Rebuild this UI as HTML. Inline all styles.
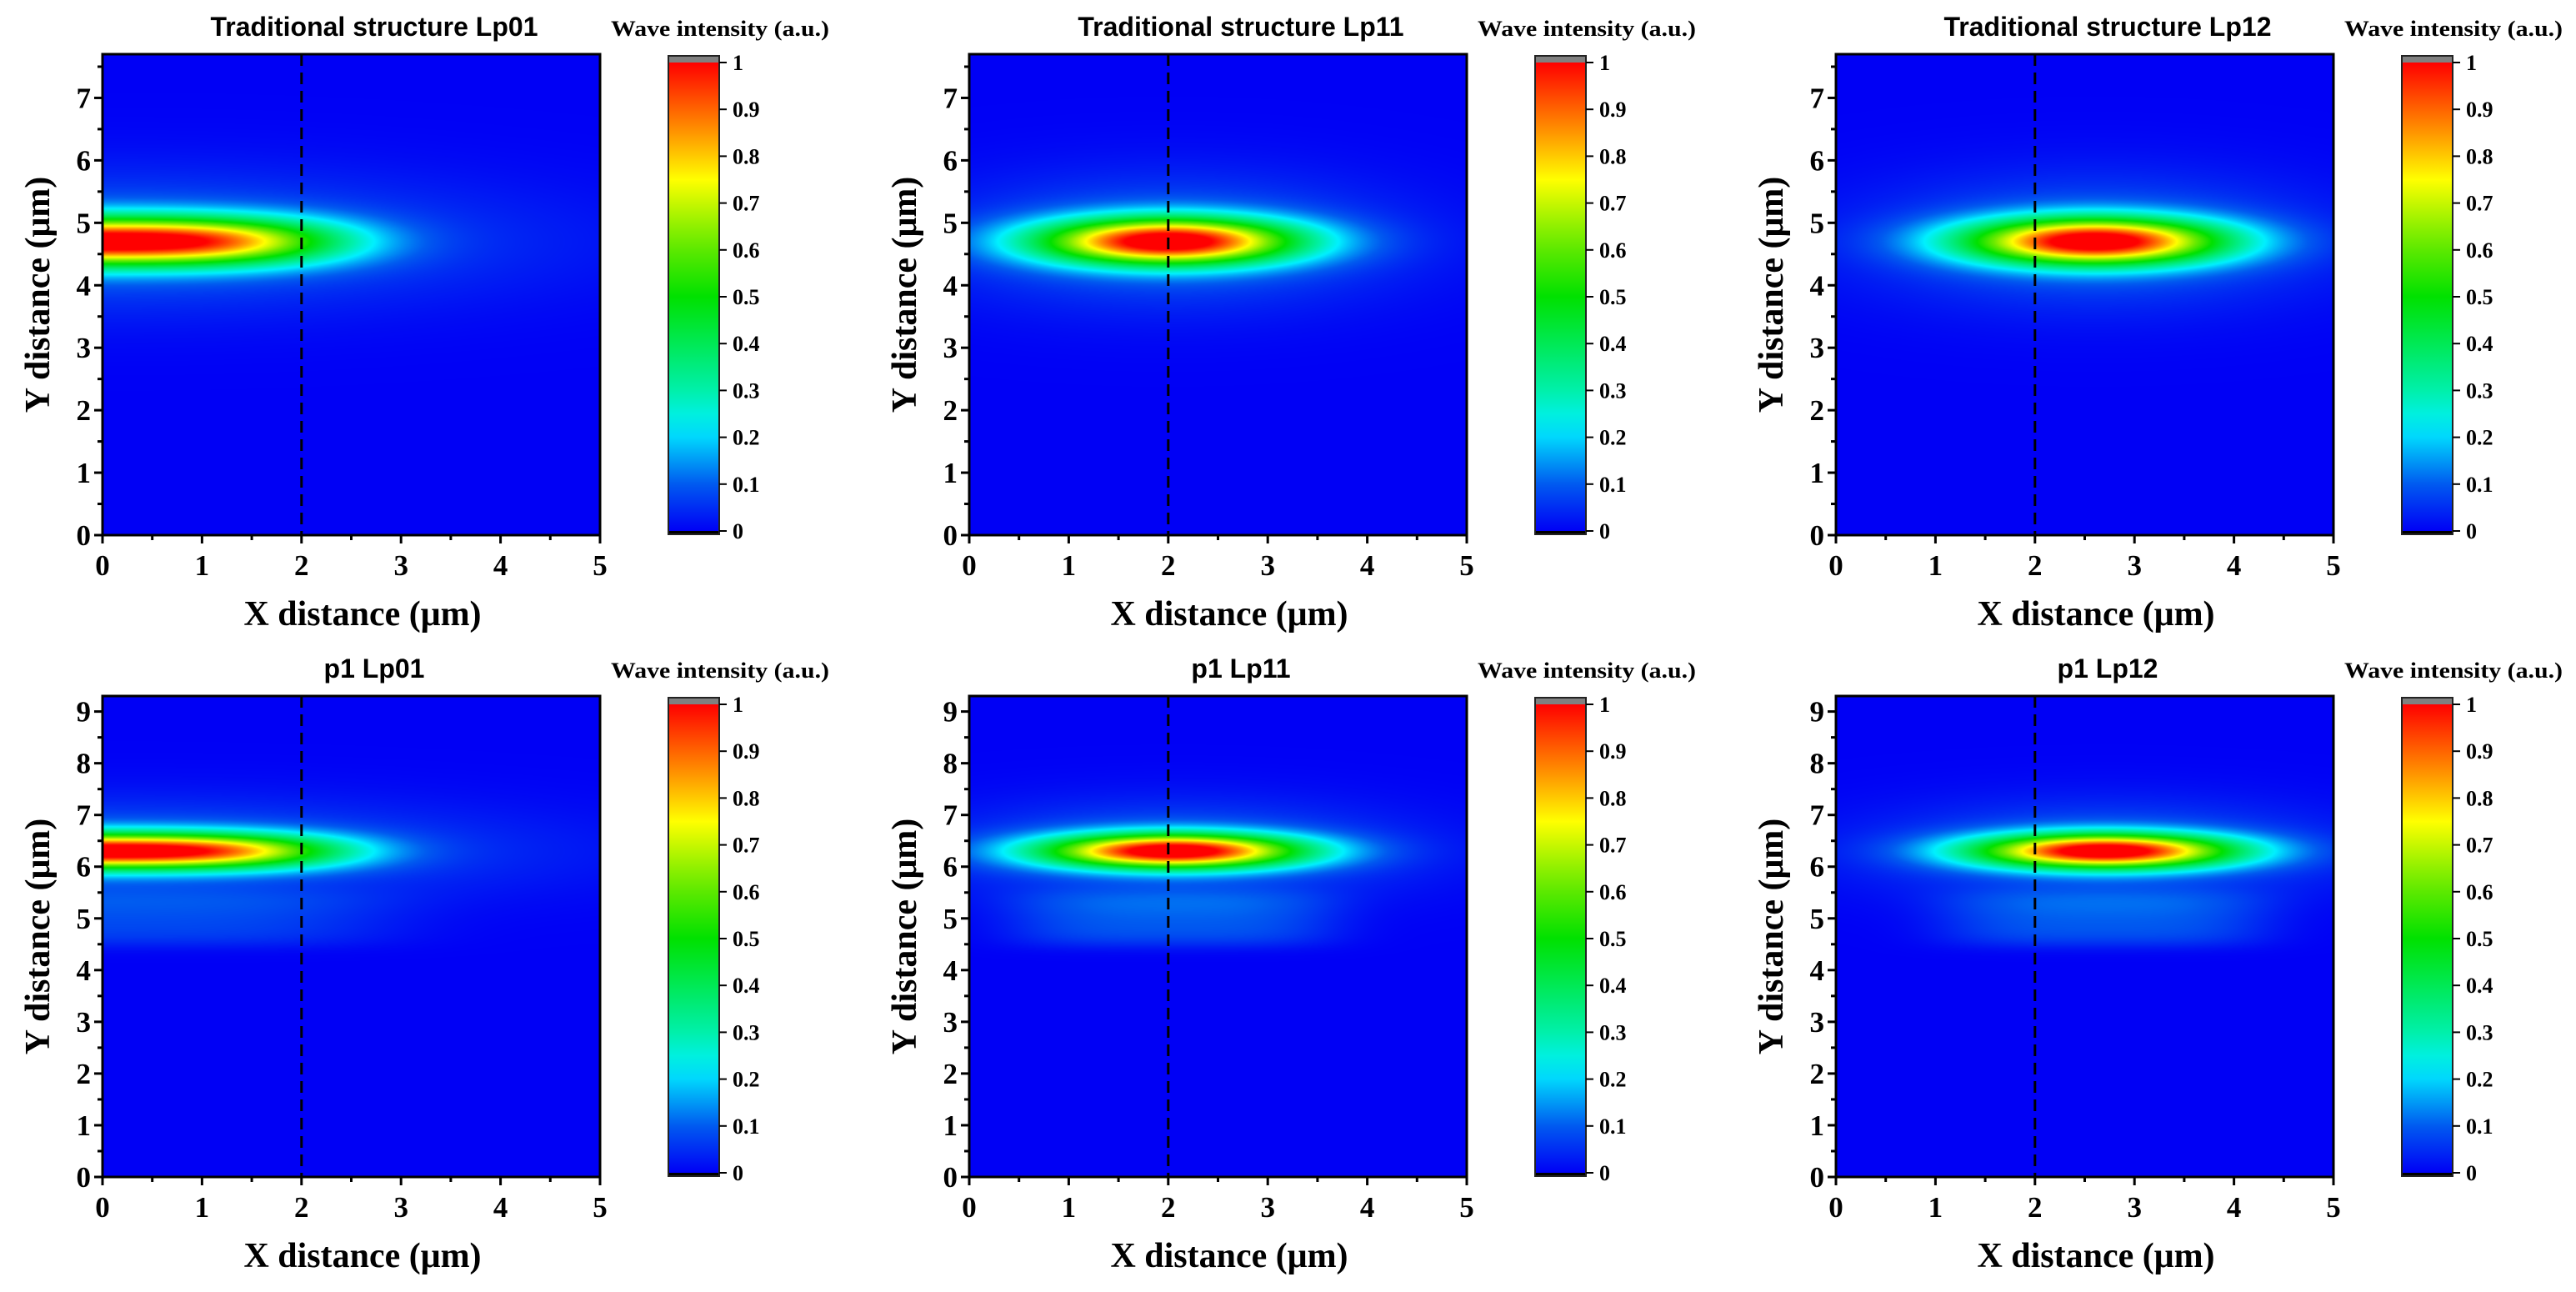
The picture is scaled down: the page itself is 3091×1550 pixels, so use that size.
<!DOCTYPE html>
<html><head><meta charset="utf-8">
<style>
html,body{margin:0;padding:0;background:#fff;}
#root{position:relative;width:3091px;height:1550px;overflow:hidden;background:#fff;}
canvas{position:absolute;}
svg{position:absolute;left:0;top:0;}
</style></head>
<body>
<div id="root">
<svg id="ov" width="3091" height="1550"></svg>
</div>
<script>
// ---- data ----
const panelTitles = ["Traditional structure Lp01","Traditional structure Lp11","Traditional structure Lp12","p1  Lp01","p1  Lp11","p1  Lp12"];
const peakX = [0, 2.0, 2.6, 0, 2.05, 2.7];
const peakY = [4.7, 4.7, 4.7, 6.3, 6.3, 6.3];
const spreadX = [2.18, 1.25, 1.25, 2.18, 1.25, 1.25];
const shapeX = [2.9, 2, 2, 2.9, 2, 2];
const spreadY = [0.37, 0.36, 0.36, 0.33, 0.32, 0.32];
const yMaxes = [7.7, 7.7, 7.7, 9.3, 9.3, 9.3];
const plateauLevel = [0, 0, 0, 0.07, 0.09, 0.09];
const plateauY = [0, 0, 0, 5.0, 5.0, 5.0];
const dashX = [2, 2, 2, 2, 2, 2];
const xTicks = [0,1,2,3,4,5];
const yTicksTop = [0,1,2,3,4,5,6,7];
const yTicksBottom = [0,1,2,3,4,5,6,7,8,9];
const cbTicks = [0,0.1,0.2,0.3,0.4,0.5,0.6,0.7,0.8,0.9,1];
const cbLabels = ["0","0.1","0.2","0.3","0.4","0.5","0.6","0.7","0.8","0.9","1"];

// ---- layout ----
const colX = [123, 1163, 2203];
const rowY = [{top:65,bot:642},{top:835,bot:1412}];
const PW = 597;
const NS = "http://www.w3.org/2000/svg";
const svg = document.getElementById('ov');
const root = document.getElementById('root');

function el(tag, attrs, parent){
  const e = document.createElementNS(NS, tag);
  for (const k in attrs) e.setAttribute(k, attrs[k]);
  (parent||svg).appendChild(e);
  return e;
}
const stops = [[0,[0,0,245]],[0.1,[0,90,240]],[0.22,[0,240,255]],[0.3,[0,240,170]],[0.5,[0,225,0]],[0.62,[110,235,0]],[0.75,[255,255,0]],[0.85,[255,150,0]],[1,[255,0,0]]];
function cmap(v){
  v=Math.max(0,Math.min(1,v));
  for(let i=1;i<stops.length;i++){
    if(v<=stops[i][0]){
      const a=stops[i-1],b=stops[i],t=(v-a[0])/(b[0]-a[0]);
      return [0,1,2].map(k=>Math.round(a[1][k]+(b[1][k]-a[1][k])*t));
    }
  }
  return stops[stops.length-1][1];
}
function field(p,x,y){
  const dx=Math.abs(x-peakX[p])/spreadX[p], dy=(y-peakY[p])/spreadY[p];
  let v=Math.exp(-Math.pow(dx,shapeX[p])-dy*dy);
  const hx=(x-peakX[p])/(spreadX[p]*1.8), hy=(y-peakY[p])/(spreadY[p]*2.8);
  v+=0.12*Math.exp(-hx*hx-hy*hy);
  if(plateauLevel[p]>0){
    const px=(x-peakX[p])/(spreadX[p]*1.3), py=(y-plateauY[p])/0.55;
    v+=plateauLevel[p]*Math.exp(-Math.pow(px*px,2)-Math.pow(py*py,2));
  }
  return Math.min(1,v);
}
const ff = '"Liberation Serif", serif';

for(let p=0;p<6;p++){
  const col=p%3,row=Math.floor(p/3);
  const L=colX[col], R=L+PW, T=rowY[row].top, B=rowY[row].bot;
  const ymax=yMaxes[p];
  const sx=v=>L+v/5*PW;
  const sy=v=>B-v/ymax*(B-T);
  const c=document.createElement('canvas');
  c.width=PW; c.height=B-T;
  c.style.left=L+'px'; c.style.top=T+'px';
  
  
  root.insertBefore(c, svg);
  const ctx=c.getContext('2d');
  const img=ctx.createImageData(c.width,c.height);
  for(let j=0;j<c.height;j++){
    const yv=ymax*(1-(j+0.5)/c.height);
    for(let i=0;i<c.width;i++){
      const xv=5*(i+0.5)/c.width;
      const rgb=cmap(field(p,xv,yv));
      const o=(j*c.width+i)*4;
      img.data[o]=rgb[0];img.data[o+1]=rgb[1];img.data[o+2]=rgb[2];img.data[o+3]=255;
    }
  }
  ctx.putImageData(img,0,0);

  const g=el('g',{});
  
  
  const dl=el('line',{x1:sx(dashX[p]),x2:sx(dashX[p]),y1:T,y2:B,stroke:'#000','stroke-width':3,'stroke-dasharray':'14 8'},g);
  
  
  const fr=el('rect',{x:L,y:T,width:PW,height:B-T,fill:'none',stroke:'#000','stroke-width':3},g);
  
  
  for(let k=0;k<=10;k++){
    const v=k*0.5;
    el('line',{x1:sx(v),x2:sx(v),y1:B,y2:B+(k%2?6:10),stroke:'#000','stroke-width':3},g);
  }
  xTicks.forEach(v=>{
    const t=el('text',{x:sx(v),y:B+48,'text-anchor':'middle','font-family':ff,'font-weight':'bold','font-size':35},g);
    t.textContent=v;
    
    
  });
  const yt=row?yTicksBottom:yTicksTop;
  for(let v=0;v<=ymax;v+=0.5){
    const major=Math.abs(v-Math.round(v))<1e-6;
    el('line',{x1:L,x2:L-(major?10:6),y1:sy(v),y2:sy(v),stroke:'#000','stroke-width':3},g);
  }
  yt.forEach(v=>{
    const t=el('text',{x:L-14,y:sy(v)+12,'text-anchor':'end','font-family':ff,'font-weight':'bold','font-size':35},g);
    t.textContent=v;
    
    
  });
  const xt=el('text',{x:L+312,y:B+108,'text-anchor':'middle','font-family':ff,'font-weight':'bold','font-size':42},g);
  xt.textContent='X distance (\u03bcm)';
  
  
  const ycx=L-78, ycy=(T+B)/2;
  const ytt=el('text',{x:ycx,y:ycy,'text-anchor':'middle','font-family':ff,'font-weight':'bold','font-size':42,transform:`rotate(-90 ${ycx} ${ycy})`,dy:14},g);
  ytt.textContent='Y distance (\u03bcm)';
  
  
  const ti=el('text',{x:L+326,y:T-22,'text-anchor':'middle','font-family':'"Liberation Sans", sans-serif','font-weight':'bold','font-size':32},g);
  ti.textContent=panelTitles[p];
  
  
  const cL=L+679, cW=61, c1=T+10, c0=B-5;
  const cb=el('g',{},g);
  
  
  const gid='grad'+p;
  const defs=el('defs',{},cb);
  const lg=el('linearGradient',{id:gid,x1:0,y1:1,x2:0,y2:0},defs);
  for(let s=0;s<=20;s++){
    const v=s/20, rgb=cmap(v);
    el('stop',{offset:v,'stop-color':`rgb(${rgb.join(',')})`},lg);
  }
  el('rect',{x:cL,y:c1-7,width:cW,height:7,fill:'#808080'},cb);
  el('rect',{x:cL,y:c1,width:cW,height:c0-c1,fill:`url(#${gid})`},cb);
  el('rect',{x:cL,y:c0,width:cW,height:4,fill:'#000'},cb);
  el('rect',{x:cL,y:c1-8,width:cW,height:c0-c1+12,fill:'none',stroke:'#222','stroke-width':2},cb);
  const cy=v=>c0-v*(c0-c1);
  cbTicks.forEach((v,i)=>{
    el('line',{x1:cL+cW,x2:cL+cW+9,y1:cy(v),y2:cy(v),stroke:'#000','stroke-width':2},cb);
    const t=el('text',{x:cL+cW+16,y:cy(v)+9,'font-family':ff,'font-weight':'bold','font-size':26},cb);
    t.textContent=cbLabels[i];
    
    
  });
  const ct=el('text',{x:cL+62,y:T-22,'text-anchor':'middle','font-family':ff,'font-weight':'bold','font-size':26,textLength:262,lengthAdjust:'spacingAndGlyphs'},cb);
  ct.textContent='Wave intensity (a.u.)';
  
  
}
</script>
</body></html>
